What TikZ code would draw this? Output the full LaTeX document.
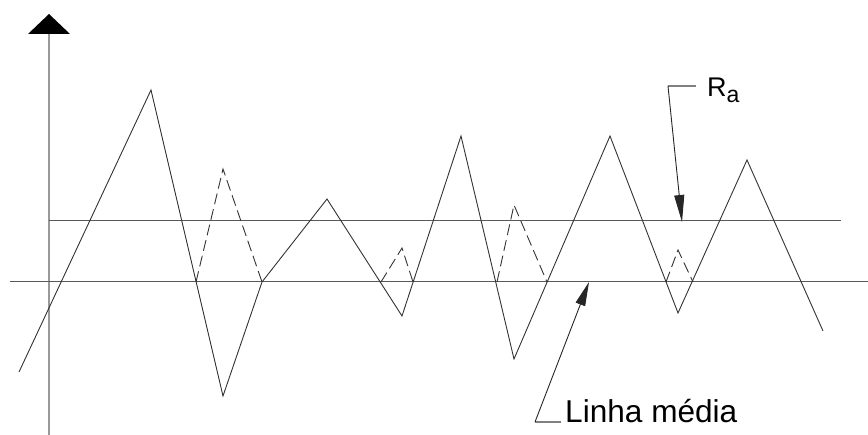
\documentclass[tikz,border=0pt]{standalone}
\usepackage{fontspec}
\setmainfont{Liberation Sans}
\usetikzlibrary{arrows.meta}
\begin{document}
\begin{tikzpicture}[x=1pt,y=-1pt,
  profile/.style={draw=black!80,line width=0.9pt,line join=miter},
  hidden/.style={draw=black!80,line width=0.9pt,dash pattern=on 11pt off 5pt},
  refline/.style={draw=black!65,line width=1pt},
  axisline/.style={draw=black!40,line width=2pt},
  leader/.style={draw=black!85,line width=0.9pt},
  leaderh/.style={draw=black!50,line width=1.2pt},
  lbl/.style={inner sep=0pt,anchor=base west,text=black}]
\useasboundingbox (0,0) rectangle (868,435);
% axis
\coordinate (ax0) at (49,435);
\coordinate (ax1) at (49,33);
\draw[axisline] (ax0) -- (ax1);
\coordinate (tipA) at (49,14);
\coordinate (tl) at (28,34);
\coordinate (tr) at (70,34);
\fill[black] (tl) -- (tipA) -- (tr) -- cycle;
% reference lines
\coordinate (m0) at (10,282);
\coordinate (m1) at (868,282);
\coordinate (r0) at (49,221);
\coordinate (r1) at (841,221);
\draw[refline] (m0) -- (m1);
\draw[refline] (r0) -- (r1);
% profile
\coordinate (p0) at (19,372);
\coordinate (p1) at (151,90);
\coordinate (p2) at (223,396);
\coordinate (p3) at (262,282);
\coordinate (p4) at (327,199);
\coordinate (p5) at (402,316);
\coordinate (p6) at (461,136);
\coordinate (p7) at (514,359);
\coordinate (p8) at (610,136);
\coordinate (p9) at (678,313);
\coordinate (p10) at (747,160);
\coordinate (p11) at (823,331);
\draw[profile] (p0) -- (p1) -- (p2) -- (p3) -- (p4) -- (p5) -- (p6) -- (p7) -- (p8) -- (p9) -- (p10) -- (p11);
% mirrored (dashed) parts
\coordinate (d1a) at (196,282);
\coordinate (d1b) at (223,169);
\coordinate (d2a) at (381,282);
\coordinate (d2b) at (402,248);
\coordinate (d2c) at (413,282);
\coordinate (d3a) at (497,282);
\coordinate (d3b) at (514,205);
\coordinate (d3c) at (547,282);
\coordinate (d4a) at (666,282);
\coordinate (d4b) at (678,250);
\coordinate (d4c) at (693,282);
\draw[hidden] (d1a) -- (d1b) -- (p3);
\draw[hidden] (d2a) -- (d2b) -- (d2c);
\draw[hidden] (d3a) -- (d3b) -- (d3c);
\draw[hidden] (d4a) -- (d4b) -- (d4c);
% labels
\node[lbl] (ra) at (707,97) {\fontsize{27}{30}\selectfont R\raisebox{-6pt}{\fontsize{23}{25}\selectfont a}};
\node[lbl] (lm) at (565,423) {\fontsize{31.6}{36}\selectfont Linha média};
% leaders
\coordinate (raH0) at (696,86);
\coordinate (raH1) at (668,86);
\coordinate (raTip) at (682,222);
\draw[leaderh] (raH0) -- (raH1);
\draw[leader,-{Triangle[length=27pt,width=10pt]}] (raH1) -- (raTip);
\coordinate (lmH0) at (561,422);
\coordinate (lmH1) at (535,422);
\coordinate (lmTip) at (589,282);
\draw[leaderh] (lmH0) -- (lmH1);
\draw[leader,-{Triangle[length=24pt,width=10pt]}] (lmH1) -- (lmTip);
\end{tikzpicture}
\end{document}
